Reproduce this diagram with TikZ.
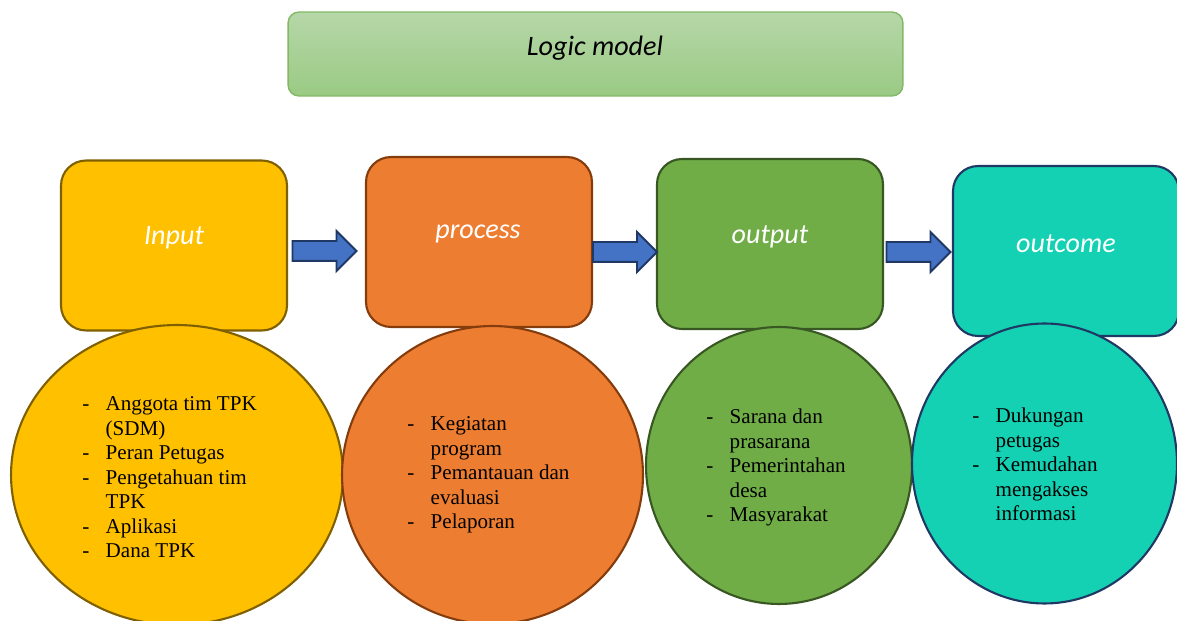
\documentclass[tikz,border=0pt]{standalone}
\usepackage{fontspec}
\setmainfont{Liberation Serif}
\newfontfamily\calibri{Carlito}
\usetikzlibrary{shapes.geometric, shapes.arrows}

\definecolor{inpfill}{HTML}{FFC000}
\definecolor{inpline}{HTML}{7F6000}
\definecolor{procfill}{HTML}{ED7D31}
\definecolor{procline}{HTML}{843C0C}
\definecolor{outpfill}{HTML}{70AD47}
\definecolor{outpline}{HTML}{385723}
\definecolor{oucfill}{HTML}{13D1B2}
\definecolor{oucline}{HTML}{1F3864}
\definecolor{arrfill}{HTML}{4472C4}
\definecolor{titletop}{HTML}{B6D7A8}
\definecolor{titlebot}{HTML}{9ACA84}
\definecolor{titleline}{HTML}{82B866}

\begin{document}
\begin{tikzpicture}[x=0.02cm, y=-0.02cm,
    stage/.style={draw, rounded corners=0.5cm, line width=1.2pt,
        minimum width=4.52cm, minimum height=3.4cm},
    stagetext/.style={text=white, font=\calibri\itshape\fontsize{16}{19}\selectfont},
    blob/.style={draw, ellipse, line width=1.2pt, inner sep=0pt},
    blobtext/.style={anchor=base west, inner sep=0pt,
        font=\fontsize{12}{13.9}\selectfont},
    blockarrow/.style={single arrow, draw=oucline, fill=arrfill, line width=1.1pt,
        inner xsep=0pt, inner ysep=0.18cm, single arrow head extend=0.2cm,
        minimum height=1.28cm}]
    \useasboundingbox (0,0) rectangle (1177,621);

    \node[draw=titleline, line width=0.8pt, rounded corners=0.22cm, top color=titletop,
        bottom color=titlebot, minimum width=12.3cm, minimum height=1.68cm] (title) at (595.5,54) {};
    \node[font=\calibri\itshape\fontsize{16}{19}\selectfont] (titletext) at (595,48) {Logic model};

    \node[stage, fill=inpfill, draw=inpline] (inp) at (174,245.5) {};
    \node[stagetext] (inptext) at (174,238) {Input};

    \node[stage, fill=procfill, draw=procline] (proc) at (479,242) {};
    \node[stagetext] (proctext) at (478,234) {process};

    \node[stage, fill=outpfill, draw=outpline] (outp) at (770,244) {};
    \node[stagetext] (outptext) at (770,237) {output};

    \node[stage, fill=oucfill, draw=oucline] (ouc) at (1066,251) {};
    \node[stagetext] (ouctext) at (1066,244) {outcome};

    \node[blockarrow] (a1) at (319.5,251) {};
    \node[blockarrow] (a2) at (620,252) {};
    \node[blockarrow] (a3) at (913.5,252) {};

    \node[blob, fill=inpfill, draw=inpline, minimum width=6.64cm, minimum height=6cm] (inpblob) at (177,475) {};
    \node[blobtext] (inplist) at (82,411) {\begin{tabular}[t]{@{}p{13.3pt}@{}l@{}}
        - & Anggota tim TPK\\
          & (SDM)\\
        - & Peran Petugas\\
        - & Pengetahuan tim\\
          & TPK\\
        - & Aplikasi\\
        - & Dana TPK
    \end{tabular}};

    \node[blob, fill=procfill, draw=procline, minimum width=6.02cm, minimum height=5.96cm] (procblob) at (492.5,475) {};
    \node[blobtext] (proclist) at (407,431) {\begin{tabular}[t]{@{}p{13.3pt}@{}l@{}}
        - & Kegiatan\\
          & program\\
        - & Pemantauan dan\\
          & evaluasi\\
        - & Pelaporan
    \end{tabular}};

    \node[blob, fill=outpfill, draw=outpline, minimum width=5.32cm, minimum height=5.54cm] (outpblob) at (779,465.5) {};
    \node[blobtext] (outplist) at (706,424) {\begin{tabular}[t]{@{}p{13.3pt}@{}l@{}}
        - & Sarana dan\\
          & prasarana\\
        - & Pemerintahan\\
          & desa\\
        - & Masyarakat
    \end{tabular}};

    \node[blob, fill=oucfill, draw=oucline, minimum width=5.3cm, minimum height=5.6cm] (oucblob) at (1044.5,463.5) {};
    \node[blobtext] (ouclist) at (972,423) {\begin{tabular}[t]{@{}p{13.3pt}@{}l@{}}
        - & Dukungan\\
          & petugas\\
        - & Kemudahan\\
          & mengakses\\
          & informasi
    \end{tabular}};
\end{tikzpicture}
\end{document}
